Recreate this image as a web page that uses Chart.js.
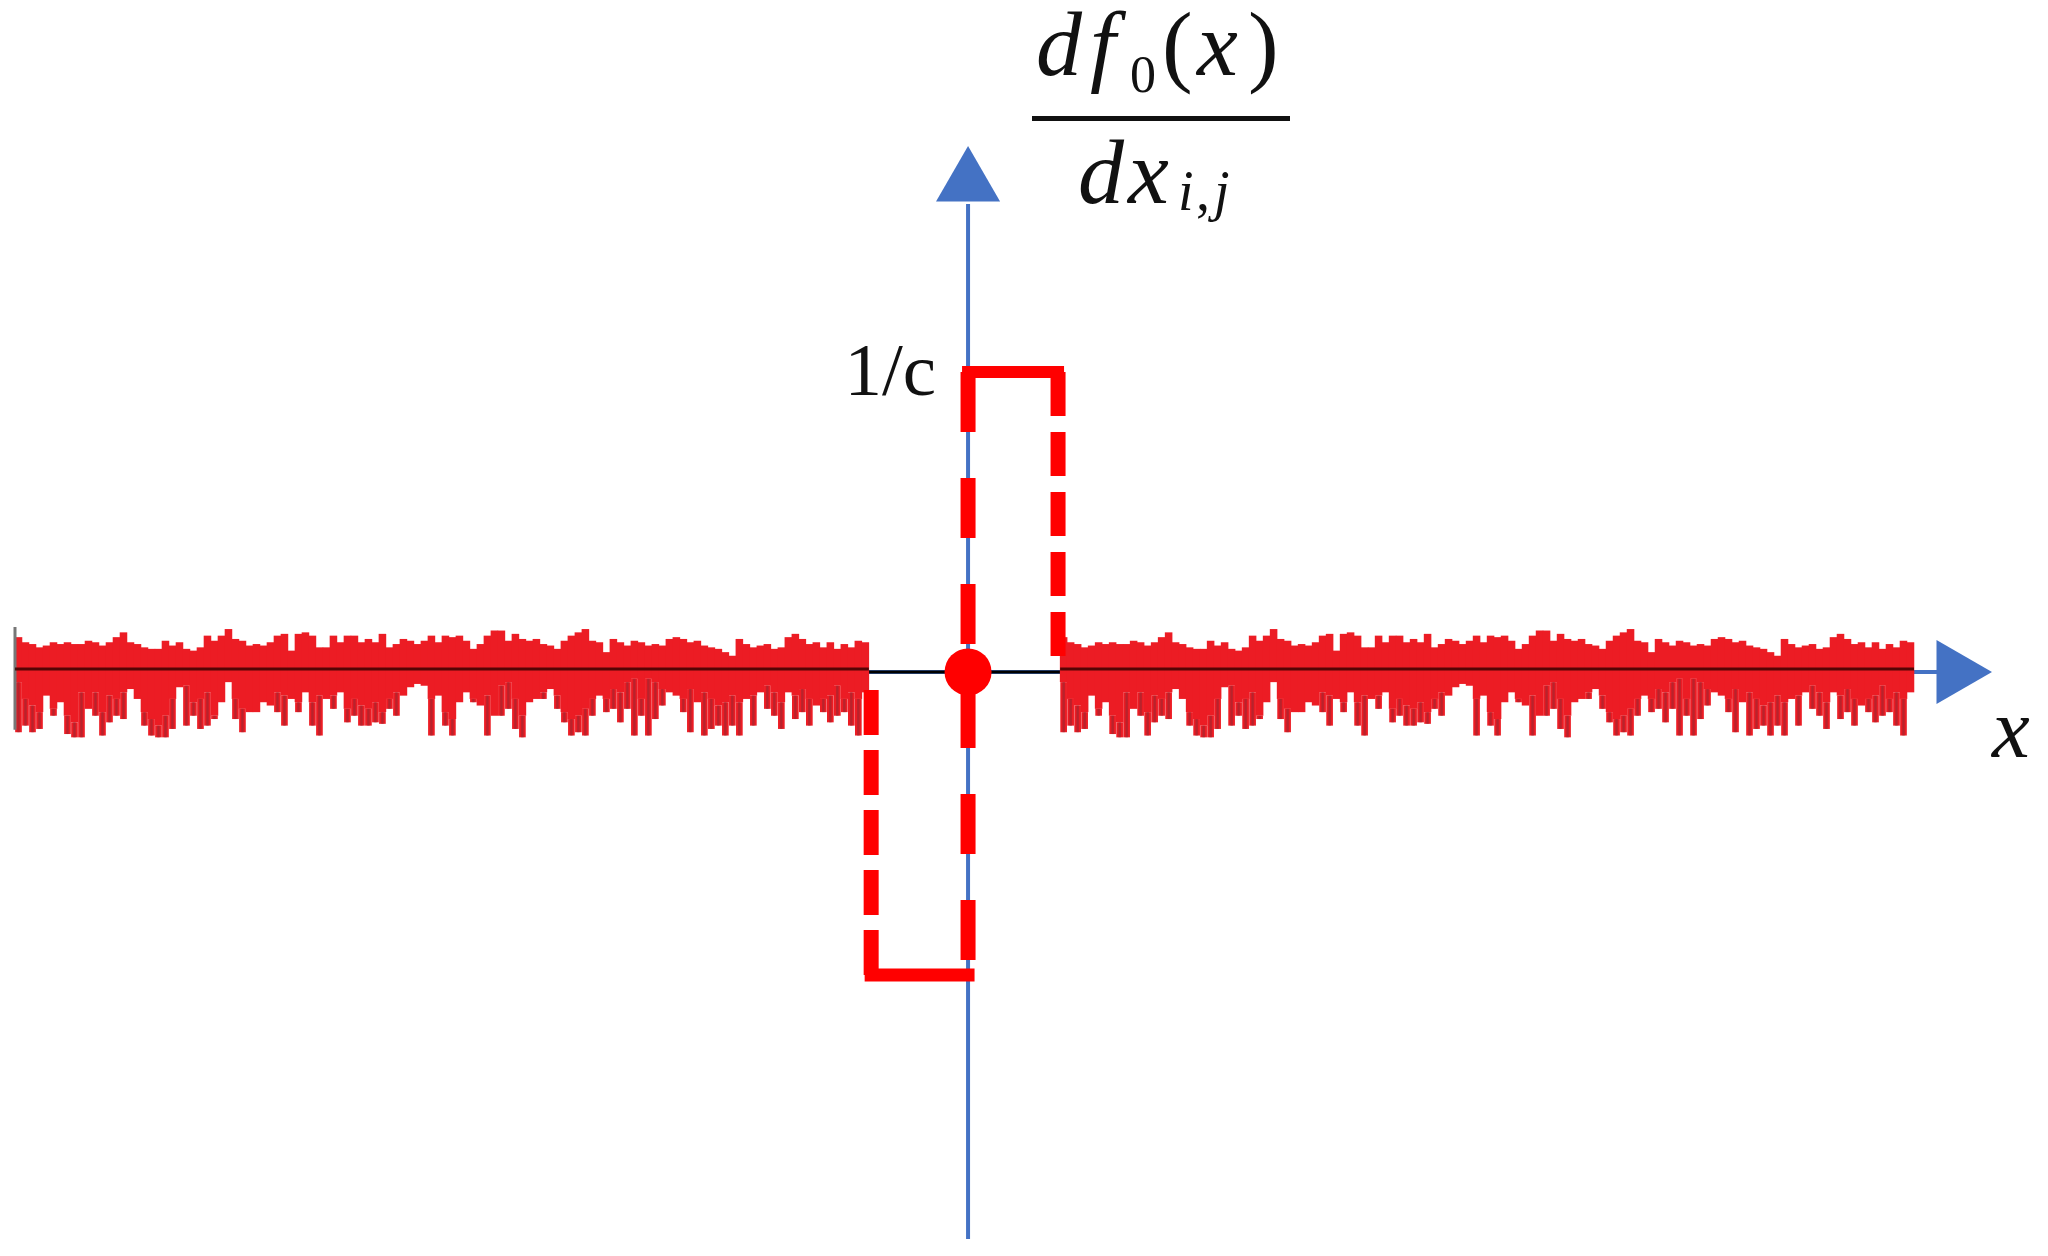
<!DOCTYPE html>
<html>
<head>
<meta charset="utf-8">
<title>df0(x)/dx</title>
<script src="https://cdn.jsdelivr.net/npm/chart.js@4.4.1/dist/chart.umd.min.js"></script>
<style>
  html, body { margin: 0; padding: 0; background: #fff; }
  #wrap { width: 2048px; height: 1256px; }
</style>
</head>
<body>
<div id="wrap"><canvas id="chart" width="2048" height="1256"></canvas></div>
<script>
// values; 1 unit = 3 px on both axes, origin where the axes cross
const X_RANGE = [-322.7, 360];
const Y_RANGE = [-194.7, 224];

// the pulse (dashed red)
const C_LEVEL = 100;          // 1/c
const PULSE_RIGHT = 30;
const PULSE_LEFT = -32.3;
const PULSE_BOTTOM = -101;
const PULSE_RIGHT_END = 5;    // right edge stops just above the axis
const PULSE_LEFT_END = -6;

// axes
const V_AXIS = [-189, 156];
const UP_ARROW_Y = 163;
const H_AXIS_END = 323;
const RIGHT_ARROW_X = 329;

// noise: the same trace is drawn left and right of the pulse
const NOISE_BASE = 1;         // noise trace sits a hair above the axis
const NOISE_STEP = 2.333;
const NOISE_STARTS = [-317.7, 30.7];
const NOISE_UP = [
  10.6, 8.9, 8.3, 7.2, 7.8, 8.9, 8.3, 8.9, 8.3, 8.3,
  9.4, 8.9, 7.8, 8.9, 10.6, 12.2, 8.9, 8.3, 7.2, 6.7,
  6.7, 9.4, 7.8, 8.9, 6.7, 6.1, 7.2, 11.1, 9.4, 11.1,
  13.3, 10, 9.4, 7.8, 8.3, 7.8, 8.9, 11.1, 11.7, 6.1,
  11.7, 12.2, 11.1, 7.2, 7.2, 11.1, 8.9, 11.1, 11.1, 8.9,
  10, 8.9, 11.7, 7.2, 8.3, 10, 9.4, 8.3, 9.4, 11.1,
  8.9, 11.1, 10.6, 11.1, 9.4, 6.7, 8.3, 11.1, 12.8, 12.8,
  9.4, 11.7, 10, 9.4, 10, 8.3, 7.8, 6.7, 9.4, 11.1,
  12.2, 13.3, 9.4, 8.9, 5.6, 10, 8.9, 7.8, 9.4, 8.9,
  7.8, 8.3, 7.8, 10, 10.6, 10, 8.9, 9.4, 7.8, 7.2,
  6.7, 5.6, 4.4, 10, 8.3, 7.2, 7.8, 8.3, 6.7, 7.2,
  10.6, 11.7, 10, 8.3, 8.9, 7.2, 8.9, 6.7, 8.3, 7.2, 9.4, 8.9
];
const NOISE_LOW = [
  4.4, 10, 12.2, 14.4, 8.9, 13.3, 11.1, 15.6, 17.8, 7.8,
  13.3, 7.8, 14.4, 8.9, 10, 7.8, 6.7, 10, 14.4, 16.7,
  18.9, 15.6, 10, 6.1, 5.6, 11.1, 10, 7.8, 15.6, 11.1,
  4.4, 10, 13.3, 14.4, 14.4, 11.1, 12.2, 7.8, 8.9, 10,
  11.1, 7.8, 11.1, 8.9, 10, 8.9, 7.8, 13.3, 10, 12.2,
  13.3, 11.1, 14.4, 10, 7.8, 8.9, 6.1, 5, 5.6, 10,
  8.9, 14.4, 16.7, 11.1, 7.8, 10, 12.2, 8.9, 15.6, 5.6,
  4.4, 10, 15.6, 11.1, 10, 7.8, 6.7, 8.9, 14.4, 16.7,
  15.6, 13.3, 10, 8.9, 10, 6.7, 7.8, 4.4, 3.3, 10,
  3.3, 4.4, 6.7, 7.8, 8.9, 10, 6.7, 11.1, 7.8, 10,
  12.2, 11.1, 8.9, 11.1, 10, 8.9, 7.8, 5.6, 7.8, 11.1,
  7.8, 8.9, 6.7, 10, 12.2, 10, 8.9, 5.6, 10, 7.8, 10, 7.8
];
// deeper spikes below the band (0 = none)
const NOISE_SPIKE = [
  21.1, 18.9, 21.1, 20, 0, 15.6, 0, 21.7, 22.8, 22.8,
  0, 15.6, 22.2, 17.8, 15.6, 16.7, 0, 0, 18.9, 22.2,
  22.8, 22.8, 20, 0, 18.9, 15.6, 20, 18.9, 16.7, 0,
  0, 16.7, 21.1, 0, 0, 0, 0, 14.4, 18.9, 0,
  14.4, 0, 18.9, 22.2, 0, 13.3, 0, 17.8, 15.6, 18.9,
  18.9, 17.8, 18.3, 13.3, 15.6, 0, 0, 0, 0, 22.2,
  0, 18.9, 22.2, 0, 0, 11.1, 0, 22.2, 0, 15.6,
  13.3, 20, 22.8, 0, 0, 10, 0, 13.3, 17.8, 22.2,
  21.1, 22.2, 15.6, 0, 14.4, 13.3, 17.8, 13.3, 22.2, 15.6,
  22.2, 16.7, 12.2, 0, 0, 14.4, 21.1, 0, 22.2, 20,
  18.9, 22.2, 18.9, 22.2, 0, 18.9, 0, 13.3, 15.6, 20,
  0, 16.7, 14.4, 18.9, 0, 14.4, 17.8, 15.6, 14.4, 18.9, 22.2, 0
];

const BLUE = '#4472c4';
const RED = '#ff0000';
const NOISE_RED = '#ec1c24';
const SPIKE_DARK = 'rgba(150, 40, 50, 0.6)';
const SERIF = '"Liberation Serif", "DejaVu Serif", serif';

const noiseWidth = NOISE_UP.length * NOISE_STEP;

// build bar data for both copies of the noise
const bandData = [];
const spikeData = [];
NOISE_STARTS.forEach(start => {
  NOISE_UP.forEach((up, i) => {
    const x = start + (i + 0.5) * NOISE_STEP;
    bandData.push({ x: x, y: [NOISE_BASE - NOISE_LOW[i], NOISE_BASE + up] });
    if (NOISE_SPIKE[i] > NOISE_LOW[i]) {
      spikeData.push({ x: x, y: [NOISE_BASE - NOISE_SPIKE[i], NOISE_BASE - NOISE_LOW[i]] });
    }
  });
});

function seg(points, color, width, dash, order, extra) {
  return Object.assign({
    type: 'line',
    data: points,
    borderColor: color,
    borderWidth: width,
    borderDash: dash || [],
    pointRadius: 0,
    fill: false,
    tension: 0,
    order: order
  }, extra || {});
}

function marker(point, color, style, radius, rotation, order) {
  return {
    type: 'line',
    data: [point],
    showLine: false,
    pointStyle: style,
    pointRadius: radius,
    pointRotation: rotation,
    pointBackgroundColor: color,
    pointBorderWidth: 0,
    order: order
  };
}

function bars(data, color, pct, order) {
  return {
    type: 'bar', data: data, backgroundColor: color, borderWidth: 0,
    grouped: false, categoryPercentage: 1, barPercentage: pct, order: order
  };
}

// dark trace line through each copy of the noise
const traceLines = NOISE_STARTS.map(start =>
  seg([{ x: start, y: NOISE_BASE }, { x: start + noiseWidth, y: NOISE_BASE }], 'rgba(60,0,0,0.85)', 3, null, 12)
);

const datasets = [
  // axes
  seg([{ x: 0, y: V_AXIS[0] }, { x: 0, y: V_AXIS[1] }], BLUE, 4, null, 20),
  seg([{ x: NOISE_STARTS[0], y: 0 }, { x: H_AXIS_END, y: 0 }], BLUE, 4, null, 20),
  seg([{ x: NOISE_STARTS[0] + noiseWidth, y: 0 }, { x: NOISE_STARTS[1], y: 0 }], '#000', 3, null, 19),
  // noise band, spikes and their dark cores
  bars(bandData, NOISE_RED, 1.08, 16),
  bars(spikeData, NOISE_RED, 0.95, 15),
  bars(spikeData, SPIKE_DARK, 0.35, 14),
  seg([{ x: NOISE_STARTS[0], y: 15 }, { x: NOISE_STARTS[0], y: -19.3 }], '#777', 3, null, 13),
  ...traceLines,
  // dashed pulse
  seg([{ x: 0, y: C_LEVEL }, { x: 0, y: 0 }], RED, 15, [60, 46], 5),
  seg([{ x: 0, y: C_LEVEL }, { x: PULSE_RIGHT, y: C_LEVEL }], RED, 12, null, 5, { borderCapStyle: 'square' }),
  seg([{ x: PULSE_RIGHT, y: C_LEVEL }, { x: PULSE_RIGHT, y: PULSE_RIGHT_END }], RED, 15, [44, 16], 5),
  seg([{ x: 0, y: 0 }, { x: 0, y: PULSE_BOTTOM }], RED, 15, [60, 46], 5, { borderDashOffset: -16 }),
  seg([{ x: 0, y: PULSE_BOTTOM }, { x: PULSE_LEFT, y: PULSE_BOTTOM }], RED, 13, null, 5, { borderCapStyle: 'square' }),
  seg([{ x: PULSE_LEFT, y: PULSE_BOTTOM }, { x: PULSE_LEFT, y: PULSE_LEFT_END }], RED, 15, [45, 15], 5),
  // arrow heads and the origin dot
  marker({ x: 0, y: UP_ARROW_Y }, BLUE, 'triangle', 37, 0, 4),
  marker({ x: RIGHT_ARROW_X, y: 0 }, BLUE, 'triangle', 37, 90, 4),
  marker({ x: 0, y: 0 }, RED, 'circle', 23.5, 0, 1)
];

// text labels: 1/c, the x label and the derivative fraction
const labelPlugin = {
  id: 'labels',
  afterDatasetsDraw(chart) {
    const { ctx } = chart;
    const xs = chart.scales.x;
    const ys = chart.scales.y;
    ctx.save();
    ctx.fillStyle = '#111';
    ctx.textBaseline = 'alphabetic';

    ctx.textAlign = 'right';
    ctx.font = '75px ' + SERIF;
    ctx.fillText('1/c', xs.getPixelForValue(0) - 32, ys.getPixelForValue(C_LEVEL) + 23);

    ctx.textAlign = 'left';
    ctx.font = 'italic 85px ' + SERIF;
    ctx.fillText('x', 1992, 757);

    const runs = [
      ['d', 'italic 92px', 1036, 75],
      ['f', 'italic 92px', 1090, 75],
      ['0', '52px', 1130, 92],
      ['(', '92px', 1162, 75],
      ['x', 'italic 92px', 1197, 75],
      [')', '92px', 1248, 75],
      ['d', 'italic 92px', 1078, 203],
      ['x', 'italic 92px', 1128, 203],
      ['i', 'italic 56px', 1178, 210],
      [',', '56px', 1196, 210],
      ['j', 'italic 56px', 1214, 210]
    ];
    runs.forEach(([t, f, px, py]) => {
      ctx.font = f + ' ' + SERIF;
      ctx.fillText(t, px, py);
    });
    ctx.fillRect(1032, 116, 258, 5);
    ctx.restore();
  }
};

new Chart(document.getElementById('chart'), {
  type: 'bar',
  data: { datasets: datasets },
  options: {
    responsive: false,
    animation: false,
    devicePixelRatio: 1,
    events: [],
    layout: { autoPadding: false, padding: 0 },
    plugins: {
      legend: { display: false },
      tooltip: { enabled: false }
    },
    scales: {
      x: { type: 'linear', min: X_RANGE[0], max: X_RANGE[1], offset: false, display: false },
      y: { type: 'linear', min: Y_RANGE[0], max: Y_RANGE[1], display: false }
    }
  },
  plugins: [labelPlugin]
});
</script>
</body>
</html>
